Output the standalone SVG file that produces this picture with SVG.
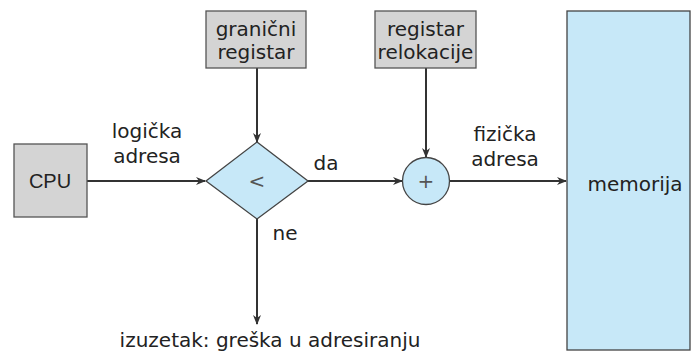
<svg xmlns="http://www.w3.org/2000/svg" width="694" height="353" viewBox="0 0 694 353">
<style>
.gray{fill:#d4d4d4;stroke:#555;stroke-width:1.3}
.blue{fill:#c7e8f8;stroke:#444;stroke-width:1.3}
.t{font-family:"DejaVu Sans",sans-serif;font-size:20px;fill:#222;text-anchor:middle}
.c{stroke:#333;stroke-width:2;fill:none}
</style>
<defs>
<marker id="ah" markerWidth="10" markerHeight="10" refX="9" refY="5" orient="auto" markerUnits="userSpaceOnUse">
<path d="M0,1 L10,5 L0,9 L3,5 z" fill="#333"/>
</marker>
</defs>
<rect width="694" height="353" fill="#fff"/>
<g id="connectors">
<line class="c" x1="87" y1="181" x2="205" y2="181" marker-end="url(#ah)"/>
<line class="c" x1="257" y1="68" x2="257" y2="142" marker-end="url(#ah)"/>
<line class="c" x1="308" y1="181" x2="402" y2="181" marker-end="url(#ah)"/>
<line class="c" x1="426" y1="68" x2="426" y2="157" marker-end="url(#ah)"/>
<line class="c" x1="449" y1="181" x2="566" y2="181" marker-end="url(#ah)"/>
<line class="c" x1="257" y1="219" x2="257" y2="324" marker-end="url(#ah)"/>
<text class="t" x="147" y="138">logička</text>
<text class="t" x="147" y="163">adresa</text>
<text class="t" x="326" y="170">da</text>
<text class="t" x="285" y="240">ne</text>
<text class="t" x="505" y="141">fizička</text>
<text class="t" x="505" y="166">adresa</text>
<text class="t" x="270" y="347">izuzetak: greška u adresiranju</text>
</g>
<g id="cpu">
<rect class="gray" x="14" y="144" width="73" height="73"/>
<text x="50" y="188" style="font-family:'Liberation Sans',sans-serif;font-size:20px;fill:#222;text-anchor:middle">CPU</text>
</g>
<g id="granicni">
<rect class="gray" x="206" y="11" width="100" height="57"/>
<text class="t" x="256" y="36">granični</text>
<text class="t" x="256" y="59">registar</text>
</g>
<g id="relokacija">
<rect class="gray" x="375" y="11" width="101" height="57"/>
<text class="t" x="425.5" y="36">registar</text>
<text class="t" x="425.5" y="59">relokacije</text>
</g>
<g id="compare">
<path class="blue" d="M257,142 L308,181 L257,219 L206,181 Z"/>
<text x="257" y="188" style="font-family:'DejaVu Sans',sans-serif;font-size:20px;fill:#555;text-anchor:middle">&lt;</text>
</g>
<g id="add">
<circle class="blue" cx="426" cy="181" r="23.5"/>
<text x="426" y="188" style="font-family:'DejaVu Sans',sans-serif;font-size:20px;fill:#555;text-anchor:middle">+</text>
</g>
<g id="memorija">
<rect class="blue" x="567" y="11" width="123" height="339"/>
<text class="t" x="635" y="191">memorija</text>
</g>
</svg>
